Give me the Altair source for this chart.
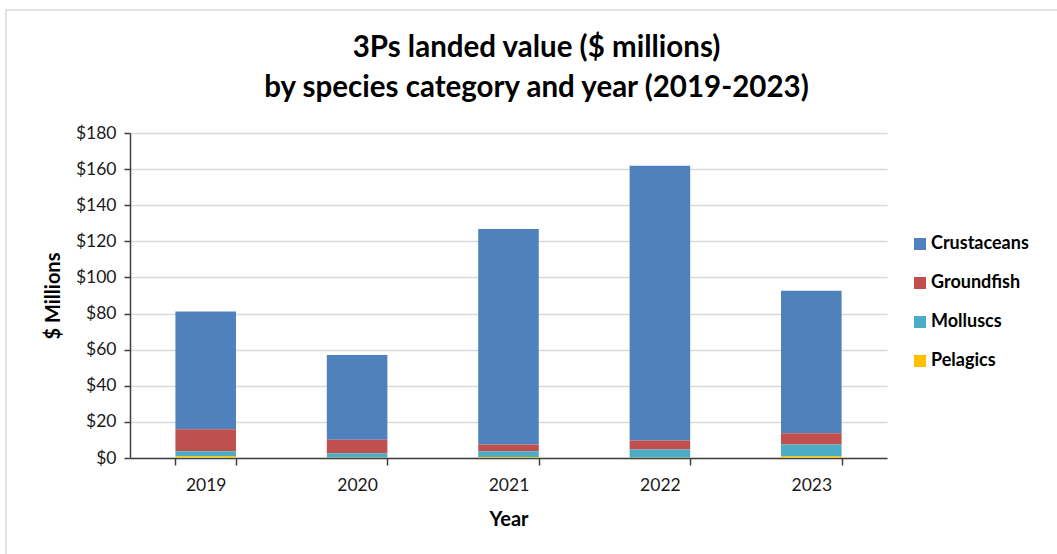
import altair as alt
import pandas as pd

# Landed value in $ millions, per species category and year
years = ["2019", "2020", "2021", "2022", "2023"]
crustaceans = [65.2, 47.0, 119.3, 152.2, 79.0]
groundfish = [12.1, 7.4, 3.7, 5.0, 6.2]
molluscs = [3.0, 2.6, 3.4, 4.5, 6.7]
pelagics = [0.8, 0.1, 0.4, 0.2, 0.8]

categories = ["Crustaceans", "Groundfish", "Molluscs", "Pelagics"]
colors = ["#4F81BD", "#C0504D", "#4BACC6", "#FFC000"]
series = {
    "Crustaceans": crustaceans,
    "Groundfish": groundfish,
    "Molluscs": molluscs,
    "Pelagics": pelagics,
}
# stacking position: Pelagics at the base, Crustaceans on top
stack_rank = {"Pelagics": 0, "Molluscs": 1, "Groundfish": 2, "Crustaceans": 3}

rows = []
for cat, vals in series.items():
    for yr, v in zip(years, vals):
        rows.append({"Year": yr, "Category": cat, "Value": v, "rank": stack_rank[cat]})
df = pd.DataFrame(rows)

FONT = "Lato"

# thin grey outline around the chart area
frame = (
    alt.Chart(pd.DataFrame({"k": [0]}))
    .mark_rect(fill=None, stroke="#D9D9D9", strokeWidth=1.5, clip=False)
    .encode(
        x=alt.value(-124),
        x2=alt.value(935),
        y=alt.value(-123),
        y2=alt.value(470),
    )
)

bars = (
    alt.Chart(df)
    .mark_bar()
    .encode(
        x=alt.X(
            "Year:N",
            sort=years,
            title="Year",
            scale=alt.Scale(paddingInner=0.6, paddingOuter=0.3),
            axis=alt.Axis(
                labelAngle=0,
                tickBand="extent",
                tickSize=7,
                labelPadding=11,
                titlePadding=16,
                domainColor="#404040",
                tickColor="#404040",
                domainWidth=1.5,
                tickWidth=1.5,
                grid=False,
            ),
        ),
        y=alt.Y(
            "sum(Value):Q",
            title="$ Millions",
            stack="zero",
            scale=alt.Scale(domain=[0, 180], nice=False),
            axis=alt.Axis(
                values=list(range(0, 181, 20)),
                format="$.0f",
                tickSize=6,
                labelPadding=8,
                titlePadding=12,
                domainColor="#404040",
                tickColor="#404040",
                domainWidth=1.5,
                tickWidth=1.5,
                gridColor="#D9D9D9",
                gridWidth=1.5,
            ),
        ),
        color=alt.Color(
            "Category:N",
            scale=alt.Scale(domain=categories, range=colors),
            legend=alt.Legend(
                title=None,
                orient="none",
                legendX=781,
                legendY=102,
                symbolType="square",
                symbolSize=144,
                symbolStrokeWidth=0,
                labelFontSize=18,
                labelFontWeight="bold",
                labelFont=FONT,
                labelColor="#000000",
                rowPadding=21,
                labelOffset=2,
            ),
        ),
        order=alt.Order("rank:Q", sort="ascending"),
    )
)

chart = (
    alt.layer(frame, bars)
    .properties(
        width=757,
        height=325,
        title=alt.TitleParams(
            text=["3Ps landed value ($ millions)", "by species category and year (2019-2023)"],
            fontSize=29.5,
            font=FONT,
            fontWeight="bold",
            color="#000000",
            anchor="middle",
            dx=28,
            dy=114,
            offset=20,
            lineHeight=40,
        ),
        padding={"left": 130, "top": 133, "right": 170, "bottom": 96},
        autosize=alt.AutoSizeParams(type="none"),
    )
    .configure_view(stroke=None)
    .configure_axis(
        labelFont=FONT,
        titleFont=FONT,
        labelFontSize=17.5,
        titleFontSize=20,
        titleFontWeight="bold",
        labelColor="#1A1A1A",
        titleColor="#000000",
    )
)

chart.save("out.html", embed_options={"renderer": "svg", "actions": False})
